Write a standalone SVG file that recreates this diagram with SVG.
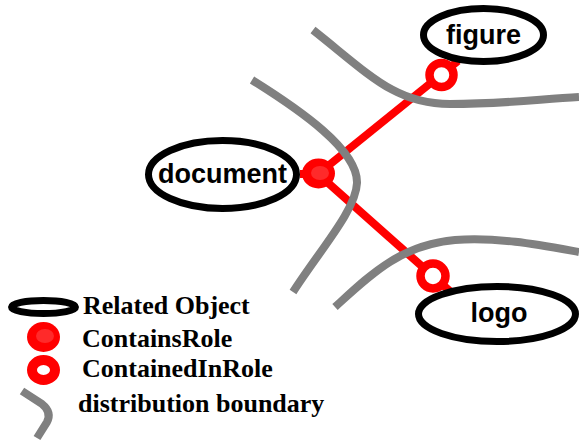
<svg xmlns="http://www.w3.org/2000/svg" width="579" height="441" viewBox="0 0 579 441">
<style>
.obj{fill:#fff;stroke:#000;stroke-width:7}
.lbl{font-family:"Liberation Sans",Arial,sans-serif;font-weight:bold;font-size:27px;fill:#000;text-anchor:middle}
.leg{font-family:"Liberation Serif","Times New Roman",serif;font-weight:bold;font-size:26px;fill:#000}
.role{stroke:#ff0000;stroke-width:8;fill:none}
.bound{stroke:#808080;stroke-width:8;fill:none}
.contains{fill:#ff0000}
.containedin{fill:#fff;stroke:#ff0000;stroke-width:8.5}
</style>
<rect width="579" height="441" fill="#fff"/>
<g id="connectors">
<line class="role" x1="300" y1="174" x2="318" y2="174"/>
<line class="role" x1="318" y1="174" x2="458" y2="61"/>
<line class="role" x1="318" y1="174" x2="452" y2="293"/>
</g>
<g id="boundaries">
<path class="bound" d="M313 30 C370 75 395 104 450 104 S540 99 579 97"/>
<path class="bound" d="M252 80 C300 110 358 150 357 183 C356 210 320 250 293 292"/>
<path class="bound" d="M335 307 C370 275 400 245 455 240 C500 237 540 245 579 252"/>
</g>
<g id="document">
<ellipse class="obj" cx="222.5" cy="174.5" rx="74" ry="34"/>
<text class="lbl" x="222.5" y="183">document</text>
</g>
<g id="figure">
<ellipse class="obj" cx="483.5" cy="35" rx="60" ry="26.5"/>
<text class="lbl" x="483.5" y="44">figure</text>
</g>
<g id="logo">
<ellipse class="obj" cx="497" cy="314" rx="78.5" ry="27.5"/>
<text class="lbl" x="499" y="322">logo</text>
</g>
<g id="document-contains">
<ellipse class="contains" cx="318.5" cy="173.5" rx="16.5" ry="15"/>
<ellipse cx="320" cy="173" rx="9" ry="7" fill="#ff2a2a"/>
</g>
<g id="figure-containedin">
<circle class="containedin" cx="441.5" cy="75" r="12"/>
</g>
<g id="logo-containedin">
<circle class="containedin" cx="433" cy="276" r="12.5"/>
</g>
<g id="legend">
<ellipse cx="43.5" cy="307" rx="32" ry="6.5" fill="#fff" stroke="#000" stroke-width="7"/>
<text class="leg" x="83" y="314">Related Object</text>
<ellipse class="contains" cx="43.5" cy="337" rx="16.5" ry="15"/>
<ellipse cx="45" cy="336" rx="9" ry="7" fill="#ff2a2a"/>
<text class="leg" x="82" y="347">ContainsRole</text>
<ellipse cx="43.5" cy="370" rx="11.5" ry="10" fill="#fff" stroke="#ff0000" stroke-width="10"/>
<text class="leg" x="82" y="377">ContainedInRole</text>
<path class="bound" d="M22 391 L42 404 Q52 412 47 422 L37 438"/>
<text class="leg" x="78" y="412">distribution boundary</text>
</g>
</svg>
